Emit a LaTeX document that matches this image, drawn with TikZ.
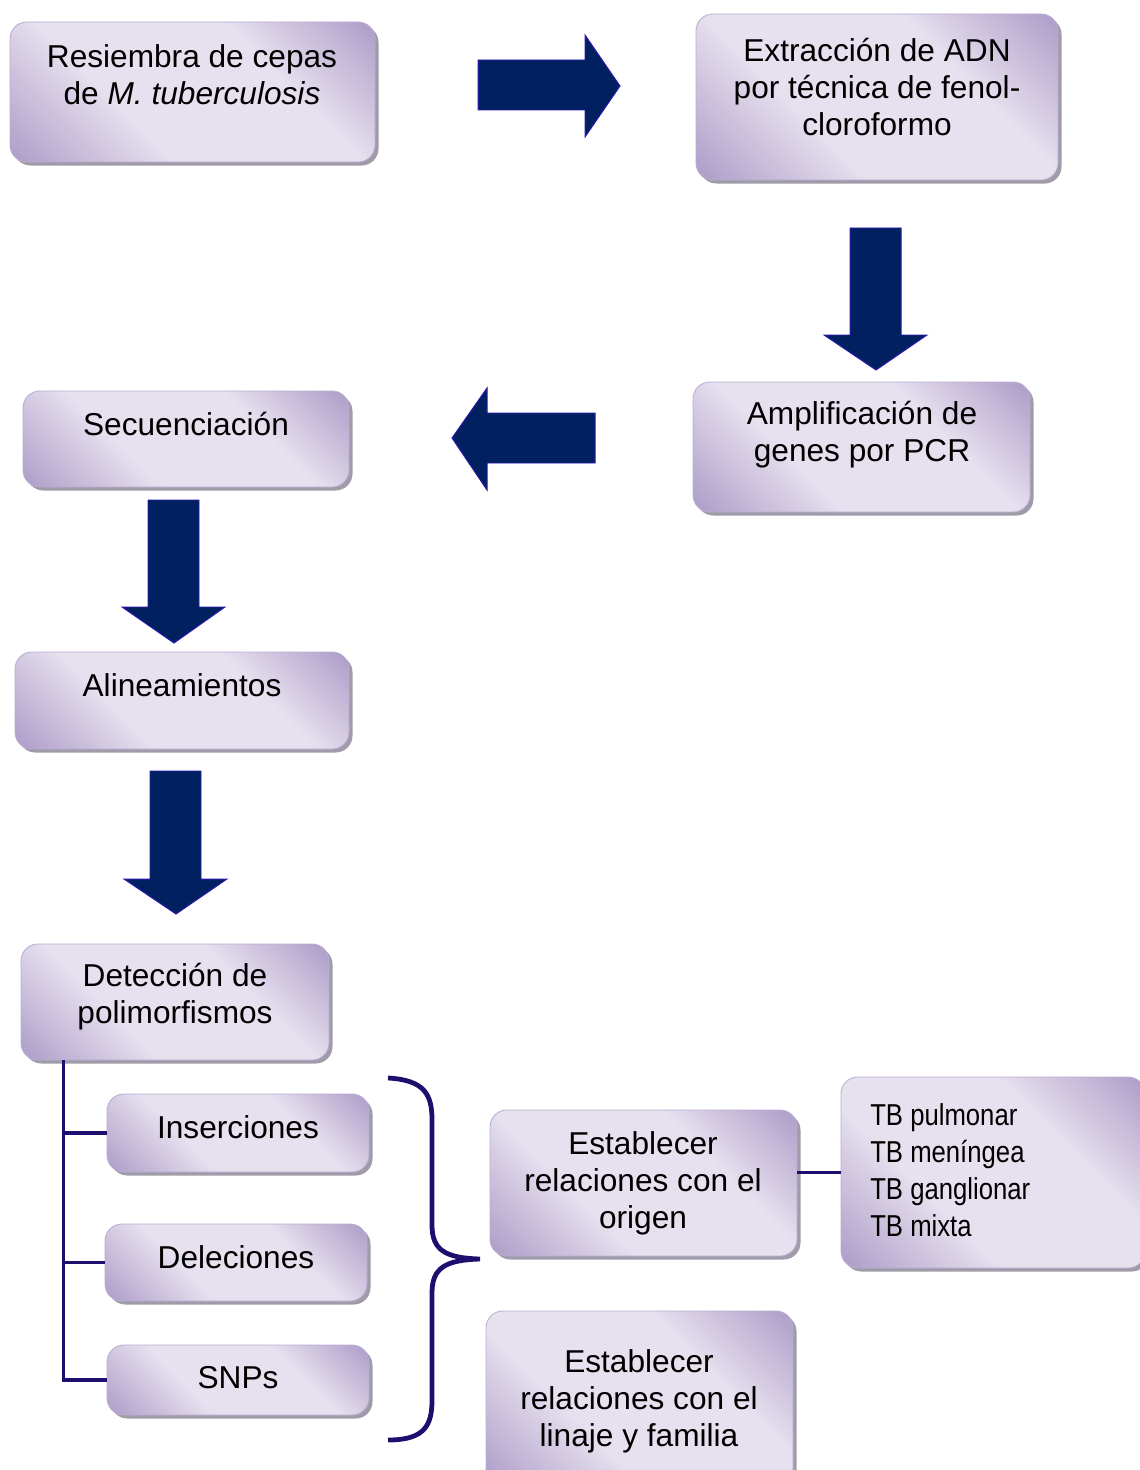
\documentclass[tikz,border=0pt]{standalone}
\usepackage{fontspec}
\setmainfont{Liberation Sans}
\newfontfamily\narrowsans[FakeStretch=0.85]{Liberation Sans}
\usetikzlibrary{fit,shadows}

\definecolor{boxlight}{RGB}{231,225,239}
\definecolor{boxdark}{RGB}{176,160,202}
\definecolor{boxline}{RGB}{186,172,210}
\definecolor{boxshadow}{RGB}{160,155,168}
\definecolor{arrowfill}{RGB}{0,32,96}
\definecolor{arrowline}{RGB}{45,25,175}
\definecolor{treeline}{RGB}{30,15,110}

\pgfdeclarehorizontalshading{boxshade}{100bp}{color(0bp)=(boxdark); color(16bp)=(boxdark); color(38bp)=(boxlight); color(64bp)=(boxlight); color(84bp)=(boxdark); color(100bp)=(boxdark)}

\begin{document}
\begin{tikzpicture}[
    x=0.025cm,y=-0.025cm,
    box/.style={draw=boxline, line width=0.6pt, rounded corners=12pt, shading=boxshade, shading angle=45, inner sep=0pt,
        drop shadow={shadow xshift=2.5pt, shadow yshift=-2.5pt, fill=boxshadow, opacity=1}},
    txt/.style={font=\fontsize{22.5}{26.3}\selectfont, align=center, inner sep=0pt},
    tblist/.style={font=\narrowsans\fontsize{21.5}{26.2}\selectfont, align=left, inner sep=0pt},
    blockarrow/.style={fill=arrowfill, draw=arrowline, line width=0.7pt},
    tree/.style={draw=treeline, line width=2.2pt},
    bracket/.style={draw=treeline, line width=3.4pt}
]
    \useasboundingbox (0,0) rectangle (1139,1470);

    \node[box, fit={(10,22) (375,162)}] (resiembra) {};
    \node[txt] (resiembraT) at (192,75) {Resiembra de cepas\\de \textit{M. tuberculosis}};

    \node[box, fit={(696,14) (1058,180)}] (extraccion) {};
    \node[txt] (extraccionT) at (877,87) {Extracción de ADN\\por técnica de fenol-\\cloroformo};

    \node[box, fit={(693,382) (1030,512)}] (amplif) {};
    \node[txt] (amplifT) at (862,435) {Amplificación de\\genes por PCR};

    \node[box, fit={(23,391) (349,487)}] (secuen) {};
    \node[txt] (secuenT) at (186,424) {Secuenciación};

    \node[box, fit={(15,652) (349,749)}] (alin) {};
    \node[txt] (alinT) at (182,685) {Alineamientos};

    \node[box, fit={(21,944) (329,1060)}] (det) {};
    \node[txt] (detT) at (175,997) {Detección de\\polimorfismos};

    \node[box, fit={(107,1094) (369,1172)}] (ins) {};
    \node[txt] (insT) at (238,1127) {Inserciones};

    \node[box, fit={(105,1224) (367,1301)}] (del) {};
    \node[txt] (delT) at (236,1257) {Deleciones};

    \node[box, fit={(107,1345) (369,1415)}] (snps) {};
    \node[txt] (snpsT) at (238,1378) {SNPs};

    \node[box, fit={(490,1110) (797,1256)}] (origen) {};
    \node[txt] (origenT) at (643,1183) {Establecer\\relaciones con el\\origen};

    \node[box, fit={(841,1077) (1145,1268)}] (tb) {};
    \node[tblist, anchor=west] (tbT) at (870,1170) {TB pulmonar\\TB meníngea\\TB ganglionar\\TB mixta};

    \node[box, fit={(486,1311) (793,1485)}] (linaje) {};
    \node[txt] (linajeT) at (639,1401) {Establecer\\relaciones con el\\linaje y familia};

    \draw[blockarrow] (478,60) -- (585,60) -- (585,35) -- (620,86) -- (585,137) -- (585,110) -- (478,110) -- cycle;
    \draw[blockarrow] (850,228) -- (901,228) -- (901,335) -- (927,335) -- (876,370) -- (824,335) -- (850,335) -- cycle;
    \draw[blockarrow] (595,413) -- (487,413) -- (487,388) -- (452,438) -- (487,490) -- (487,463) -- (595,463) -- cycle;
    \draw[blockarrow] (148,500) -- (199,500) -- (199,607) -- (225,607) -- (174,643) -- (122,607) -- (148,607) -- cycle;
    \draw[blockarrow] (150,771) -- (201,771) -- (201,879) -- (227,879) -- (176,914) -- (124,879) -- (150,879) -- cycle;

    \coordinate (trunk) at ([xshift=1.075cm]det.south west);
    \draw[tree] (trunk) |- (snps.west);
    \draw[tree] (trunk |- ins.west) -- (ins.west);
    \draw[tree] (trunk |- del.west) -- (del.west);
    \draw[tree] (origen.east |- tb.west) -- (tb.west);

    \draw[bracket] (388,1078) .. controls (425,1080) and (432,1095) .. (432,1120) -- (432,1225)
        .. controls (432,1250) and (445,1258) .. (480,1259)
        .. controls (445,1260) and (432,1268) .. (432,1293) -- (432,1400)
        .. controls (432,1425) and (425,1440) .. (388,1440);
\end{tikzpicture}
\end{document}
